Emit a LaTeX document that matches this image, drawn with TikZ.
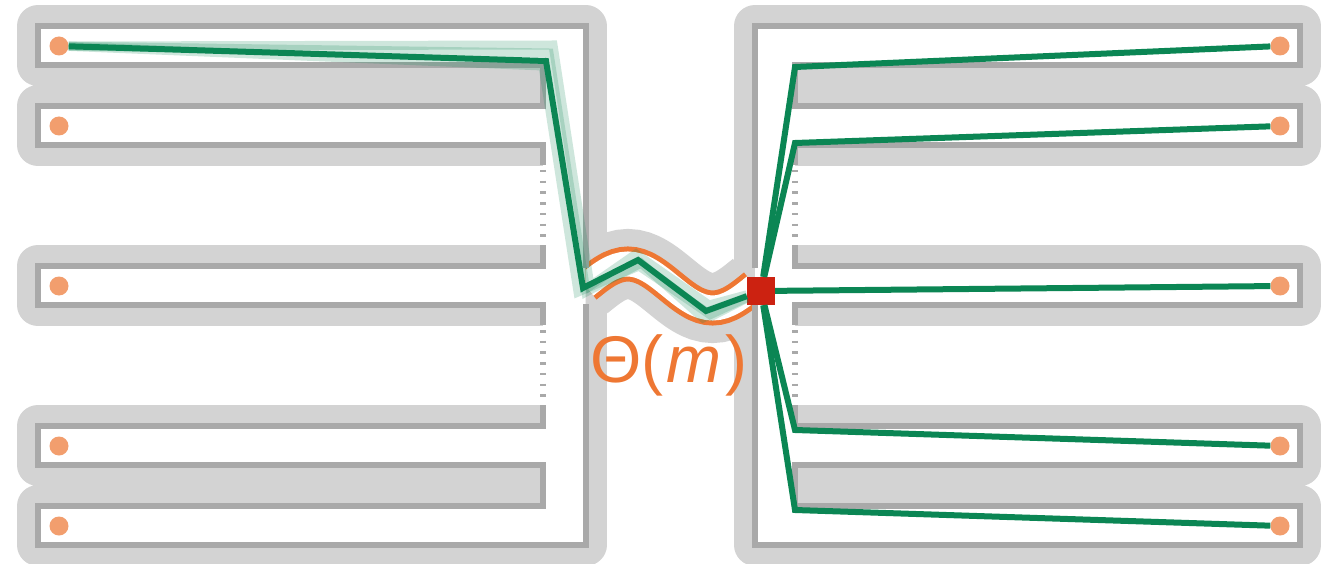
\documentclass[tikz,border=0pt]{standalone}
\usepackage{fontspec}
\newfontfamily\labelfont{Liberation Sans}
\usetikzlibrary{calc}
\definecolor{wallgray}{HTML}{D3D3D3}
\definecolor{rimgray}{HTML}{A9A9A9}
\definecolor{tracegreen}{HTML}{0B8654}
\definecolor{tubeorange}{HTML}{EE7733}
\definecolor{portorange}{HTML}{F29E6E}
\definecolor{hubred}{HTML}{CC2211}

\begin{document}
\begin{tikzpicture}[
  x=1pt, y=-1pt,
  band/.style={draw=wallgray, line width=42pt, line join=round},
  rim/.style={draw=rimgray, line width=6pt},
  omitted/.style={draw=rimgray, line width=6pt, dash pattern=on 2.5pt off 8.2pt},
  port/.style={circle, fill=portorange, minimum size=19pt, inner sep=0pt},
  hub/.style={fill=hubred, minimum size=28pt, inner sep=0pt},
  trace/.style={draw=tracegreen, line width=6pt},
  halo/.style={draw=tracegreen, line width=9pt, opacity=0.2},
  tube/.style={line width=#1}
]
  \useasboundingbox (0,0) rectangle (1337,564);

  \draw[band] (543,245) -- (543,266) -- (38,266) -- (38,305) -- (543,305) -- (543,325);
  \draw[band] (543,405) -- (543,426) -- (38,426) -- (38,465) -- (543,465) -- (543,506) -- (38,506) -- (38,545)
    -- (585.5,545) -- (585.5,26) -- (38,26) -- (38,65) -- (543,65) -- (543,106) -- (38,106) -- (38,145) -- (543,145) -- (543,165);
  \draw[band] (795,245) -- (795,266) -- (1300,266) -- (1300,305) -- (795,305) -- (795,325);
  \draw[band] (795,405) -- (795,426) -- (1300,426) -- (1300,465) -- (795,465) -- (795,506) -- (1300,506) -- (1300,545)
    -- (755,545) -- (755,26) -- (1300,26) -- (1300,65) -- (795,65) -- (795,106) -- (1300,106) -- (1300,145) -- (795,145) -- (795,165);

  \fill[white] (38,26) -- (585.5,26) -- (585.5,545) -- (38,545) -- (38,506) -- (543,506) -- (543,465) -- (38,465)
    -- (38,426) -- (543,426) -- (543,305) -- (38,305) -- (38,266) -- (543,266) -- (543,145) -- (38,145)
    -- (38,106) -- (543,106) -- (543,65) -- (38,65) -- cycle;
  \fill[white] (1300,26) -- (755,26) -- (755,545) -- (1300,545) -- (1300,506) -- (795,506) -- (795,465) -- (1300,465)
    -- (1300,426) -- (795,426) -- (795,305) -- (1300,305) -- (1300,266) -- (795,266) -- (795,145) -- (1300,145)
    -- (1300,106) -- (795,106) -- (795,65) -- (1300,65) -- cycle;

  \begin{scope}
    \clip (585.5,180) rectangle (755,400);
    \draw[tube=70pt, wallgray] (585.5,286) sin (627.9,264) cos (670.25,286) sin (712.6,308) cos (755,286);
    \draw[tube=35pt, tubeorange] (585.5,286) sin (627.9,264) cos (670.25,286) sin (712.6,308) cos (755,286);
    \draw[tube=25pt, white] (585.5,286) sin (627.9,264) cos (670.25,286) sin (712.6,308) cos (755,286);
  \end{scope}

  \draw[rim] (543,245) -- (543,266) -- (38,266) -- (38,305) -- (543,305) -- (543,325);
  \draw[rim] (585.5,304) -- (585.5,545) -- (38,545) -- (38,506) -- (543,506) -- (543,465) -- (38,465) -- (38,426) -- (543,426) -- (543,405);
  \draw[rim] (585.5,268) -- (585.5,26) -- (38,26) -- (38,65) -- (543,65) -- (543,106) -- (38,106) -- (38,145) -- (543,145) -- (543,165);
  \draw[omitted] (543,170) -- (543,238);
  \draw[omitted] (543,330) -- (543,398);
  \draw[rim] (795,245) -- (795,266) -- (1300,266) -- (1300,305) -- (795,305) -- (795,325);
  \draw[rim] (755,304) -- (755,545) -- (1300,545) -- (1300,506) -- (795,506) -- (795,465) -- (1300,465) -- (1300,426) -- (795,426) -- (795,405);
  \draw[rim] (755,268) -- (755,26) -- (1300,26) -- (1300,65) -- (795,65) -- (795,106) -- (1300,106) -- (1300,145) -- (795,145) -- (795,165);
  \draw[omitted] (795,170) -- (795,238);
  \draw[omitted] (795,330) -- (795,398);

  \node[port] (l1) at (59,46) {};
  \node[port] (l2) at (59,126) {};
  \node[port] (l3) at (59,286) {};
  \node[port] (l4) at (59,446) {};
  \node[port] (l5) at (59,526) {};
  \node[port] (r1) at (1280,46) {};
  \node[port] (r2) at (1280,126) {};
  \node[port] (r3) at (1280,286) {};
  \node[port] (r4) at (1280,446) {};
  \node[port] (r5) at (1280,526) {};
  \node[hub] (hub) at (761,291) {};

  \coordinate (lb1) at (546,61);
  \coordinate (lb2) at (583,288);
  \coordinate (lb3) at (638,260);
  \coordinate (lb4) at (706,311);
  \coordinate (rb1) at (795,67);
  \coordinate (rb2) at (795,143);
  \coordinate (rb4) at (795,430);
  \coordinate (rb5) at (795,510);

  \draw[halo] (l1) -- ($(lb1)+(7,-16)$) -- ($(lb2)+(7,-2)$) -- ($(lb3)+(-2,-6)$) -- ($(lb4)+(3,-6)$) -- (hub);
  \draw[halo] (l1) -- ($(lb1)+(3,-8)$) -- ($(lb2)+(3,4)$) -- ($(lb3)+(3,3)$) -- ($(lb4)+(-3,7)$) -- (hub);
  \draw[halo] (l1) -- ($(lb1)+(-3,5)$) -- ($(lb2)+(-5,4)$) -- ($(lb3)+(1,6)$) -- ($(lb4)+(6,5)$) -- (hub);
  \draw[trace] (l1) -- (lb1) -- (lb2) -- (lb3) -- (lb4) -- (hub);

  \draw[trace] (hub) -- (rb1) -- (r1);
  \draw[trace] (hub) -- (rb2) -- (r2);
  \draw[trace] (hub) -- (r3);
  \draw[trace] (hub) -- (rb4) -- (r4);
  \draw[trace] (hub) -- (rb5) -- (r5);

  \node[anchor=base, text=tubeorange, font=\labelfont\fontsize{66}{70}\selectfont, inner sep=0pt]
    (rate) at (668.7,382) {Θ(\kern3pt\textit{m}\kern4pt)};
\end{tikzpicture}
\end{document}
